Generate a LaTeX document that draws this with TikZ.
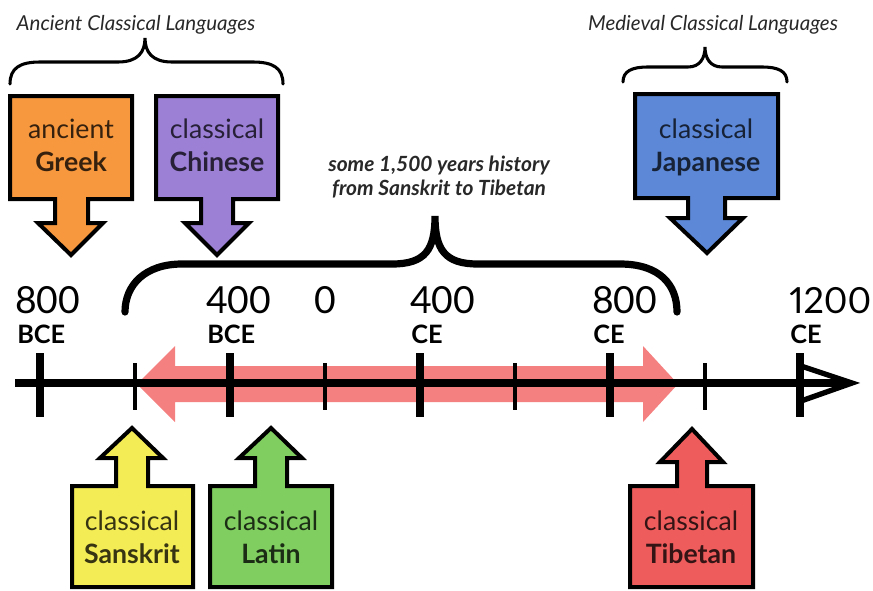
\documentclass[tikz,border=0pt]{standalone}
\usepackage{fontspec}
\setmainfont{Lato}
\usetikzlibrary{calc}
\definecolor{cGreek}{RGB}{247,152,62}
\definecolor{cChinese}{RGB}{155,128,214}
\definecolor{cJapanese}{RGB}{92,136,215}
\definecolor{cSanskrit}{RGB}{244,236,84}
\definecolor{cLatin}{RGB}{128,205,96}
\definecolor{cTibetan}{RGB}{238,92,92}
\definecolor{cSpan}{RGB}{245,128,128}
\definecolor{cNote}{RGB}{40,40,40}
\tikzset{
  boxline/.style={draw=black, line width=3pt, line join=miter},
  axisline/.style={line width=6pt},
  majortick/.style={line width=6pt},
  minortick/.style={line width=3pt},
  bigbrace/.style={line width=5.4pt, line cap=round},
  smallbrace/.style={line width=2.3pt, line cap=round},
  numlabel/.style={anchor=base west, inner sep=0pt, font=\fontsize{28}{30}\selectfont},
  eralabel/.style={anchor=base west, inner sep=0pt, font=\fontsize{19}{22}\selectfont\bfseries},
  boxtext/.style={anchor=base, inner sep=0pt, font=\fontsize{20}{24.75}\selectfont},
  notetext/.style={anchor=base, inner sep=0pt, text=cNote, font=\fontsize{15.4}{18}\selectfont\itshape},
  spantext/.style={anchor=base, inner sep=0pt, text=cNote, font=\fontsize{15.7}{18}\selectfont\itshape\bfseries},
}
\newcommand\twolines[2]{\begin{tabular}[t]{@{}c@{}}#1\\\textbf{#2}\end{tabular}}
\begin{document}
\begin{tikzpicture}[x=0.75pt,y=-0.75pt]
\useasboundingbox (0,0) rectangle (873,590);

% ---- braces and their captions
\draw[smallbrace] (10,84) .. controls (10,68) and (20,62) .. (40,62) -- (118,62)
  .. controls (138,62) and (145,52) .. (145,38) .. controls (145,52) and (152,62) .. (172,62)
  -- (253,62) .. controls (273,62) and (283,68) .. (283,84);
\node[notetext] (ancient) at (136,30) {Ancient Classical Languages};

\draw[smallbrace] (623,82) .. controls (623,71) and (632,67) .. (648,67) -- (688,67)
  .. controls (700,67) and (705,58) .. (705,47) .. controls (705,58) and (710,67) .. (722,67)
  -- (762,67) .. controls (778,67) and (787,71) .. (787,82);
\node[notetext] (medieval) at (713,30) {Medieval Classical Languages};

\draw[bigbrace] (125,312) .. controls (125,285) and (145,264) .. (182,264) -- (392,264)
  .. controls (425,264) and (435,250) .. (435,216) .. controls (435,250) and (445,264) .. (478,264)
  -- (620,264) .. controls (660,264) and (677,285) .. (677,312);
\node[spantext] (span1) at (439,171) {some 1,500 years history};
\node[spantext] (span2) at (439,195) {from Sanskrit to Tibetan};

% ---- span arrow
\fill[cSpan] (137,384) -- (175,346) -- (175,366) -- (643,366) -- (643,346) -- (678,384)
  -- (643,422) -- (643,402) -- (175,402) -- (175,422) -- cycle;

% ---- axis
\draw[axisline] (15,383) -- (848,383);
\draw[line width=4pt, line join=miter, line cap=butt] (801,366) -- (852,383) -- (801,401);
\foreach \x in {40,230,420,610,800} \draw[majortick] (\x,353) -- (\x,417);
\foreach \x in {135,325,515,705} \draw[minortick] (\x,363) -- (\x,410);

% ---- axis labels
\node[numlabel] (n1) at (15,313) {800};
\node[eralabel] (e1) at (17,343) {BCE};
\node[numlabel] (n2) at (206,313) {400};
\node[eralabel] (e2) at (207,343) {BCE};
\node[numlabel, anchor=base] (n3) at (325,313) {0};
\node[numlabel] (n4) at (410,313) {400};
\node[eralabel] (e4) at (411,343) {CE};
\node[numlabel] (n5) at (592,313) {800};
\node[eralabel] (e5) at (593,343) {CE};
\node[numlabel, font=\fontsize{27}{30}\selectfont\addfontfeatures{Numbers=Proportional}] (n6) at (789,313) {1200};
\node[eralabel] (e6) at (790,343) {CE};

% ---- top (down-pointing) boxes
\filldraw[boxline, fill=cGreek] (10,96) -- (132,96) -- (132,199) -- (88,199) -- (88,223) -- (103,223)
  -- (71,255) -- (38,223) -- (55,223) -- (55,199) -- (10,199) -- cycle;
\node[boxtext, text=cGreek!22!black] (greek) at (71,138) {\twolines{ancient}{Greek}};

\filldraw[boxline, fill=cChinese] (156,96) -- (278,96) -- (278,199) -- (233,199) -- (233,223) -- (249,223)
  -- (217,255) -- (185,223) -- (201,223) -- (201,199) -- (156,199) -- cycle;
\node[boxtext, text=cChinese!25!black] (chinese) at (217,138) {\twolines{classical}{Chinese}};

\filldraw[boxline, fill=cJapanese] (635,94) -- (778,94) -- (778,198) -- (725,198) -- (725,218) -- (743,218)
  -- (707,253) -- (670,218) -- (688,218) -- (688,198) -- (635,198) -- cycle;
\node[boxtext, text=cJapanese!25!black] (japanese) at (706,138) {\twolines{classical}{Japanese}};

% ---- bottom (up-pointing) boxes
\filldraw[boxline, fill=cSanskrit] (72,587) -- (193,587) -- (193,486) -- (148,486) -- (148,458) -- (163,458)
  -- (132,428) -- (100,458) -- (116,458) -- (116,486) -- (72,486) -- cycle;
\node[boxtext, text=cSanskrit!22!black] (sanskrit) at (132,530) {\twolines{classical}{Sanskrit}};

\filldraw[boxline, fill=cLatin] (210,587) -- (332,587) -- (332,486) -- (287,486) -- (287,458) -- (302,458)
  -- (271,428) -- (239,458) -- (255,458) -- (255,486) -- (210,486) -- cycle;
\node[boxtext, text=cLatin!22!black] (latin) at (271,530) {\twolines{classical}{Latin}};

\filldraw[boxline, fill=cTibetan] (630,587) -- (753,587) -- (753,486) -- (707,486) -- (707,462) -- (723,462)
  -- (692,429) -- (660,462) -- (677,462) -- (677,486) -- (630,486) -- cycle;
\node[boxtext, text=cTibetan!22!black] (tibetan) at (691,530) {\twolines{classical}{Tibetan}};
\end{tikzpicture}
\end{document}
